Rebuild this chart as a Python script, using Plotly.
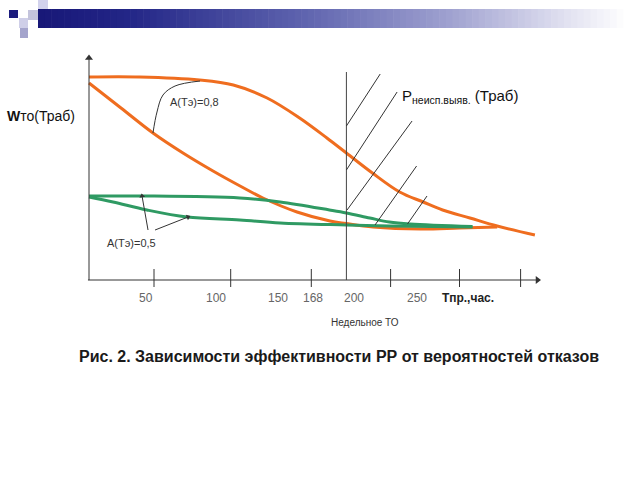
import math
import plotly.graph_objects as go

# ---- data (schematic chart units: x ~ hours, y ~ efficiency) ----
orange_hi_x = [0, 39, 85, 111, 137, 162, 183, 198, 218, 239, 257, 272, 293, 314, 343]
orange_hi_y = [101.5, 101.5, 100, 97.5, 91, 81, 71, 63.5, 53.5, 44, 39, 35, 31, 27, 22.5]
orange_lo_x = [0, 24.6, 49.2, 72.3, 95.4, 116.2, 133.8, 160, 185.4, 197.7, 218.5, 255, 285, 314]
orange_lo_y = [98.5, 86, 73.5, 63.5, 54.5, 47, 41, 34, 29.5, 28.25, 26.5, 25.5, 26, 26.5]
green_hi_x = [0, 41, 116, 147, 185, 198, 216, 231, 247, 295]
green_hi_y = [42, 42, 41, 39, 35, 33.5, 31, 29, 28, 26.75]
green_lo_x = [0, 18.5, 44.6, 75.4, 116, 147, 198, 231, 295]
green_lo_y = [41.5, 39, 35, 31.5, 30, 28.5, 27.5, 27, 26.5]

tick_positions = [50, 109, 171, 232, 285, 332]
tick_labels = ["50", "100", "150", "168", "200", "250"]
tick_label_x = [44, 98, 145, 172, 204, 252]
week_x = 198           # Недельное ТО marker
x_axis_end = 345
y_axis_end = 111

hatch_x0 = [198, 198, 198.5, 220, 245]
hatch_y0 = [77, 55, 35, 27.5, 28]
hatch_x1 = [224, 237, 248.5, 252, 260]
hatch_y1 = [103, 94, 79.5, 57, 42]

leader08_x = [85.4, 66.2, 56.9, 52.3, 49.2]
leader08_y = [99.5, 97, 92.5, 84, 73.5]
leader05_x = [[45.4, 40.8], [50.8, 76.2]]
leader05_y = [[25, 42], [25, 31.5]]

ORANGE = "#ef6d1f"
GREEN = "#2f9a63"
DARK = "#333333"
FONT = "Arial, Liberation Sans, sans-serif"

W, H = 640, 480
X0, XS = 89, 1.3     # pixel of x=0, px per unit
Y0, YS = 280, 2.0    # pixel of y=0, px per unit

fig = go.Figure()

# curves
for xs, ys, col in [(orange_hi_x, orange_hi_y, ORANGE), (orange_lo_x, orange_lo_y, ORANGE),
                    (green_hi_x, green_hi_y, GREEN), (green_lo_x, green_lo_y, GREEN)]:
    fig.add_trace(go.Scatter(x=xs, y=ys, mode="lines",
                             line=dict(color=col, width=3, shape="spline", smoothing=1.0),
                             hoverinfo="skip", showlegend=False))


def arrow_line(xs, ys, size):
    fig.add_trace(go.Scatter(x=xs, y=ys, mode="lines", line=dict(color=DARK, width=1),
                             hoverinfo="skip", showlegend=False))
    dxp = (xs[-1] - xs[-2]) * XS
    dyp = -(ys[-1] - ys[-2]) * YS
    ang = math.degrees(math.atan2(dxp, -dyp))
    fig.add_trace(go.Scatter(x=[xs[-1]], y=[ys[-1]], mode="markers",
                             marker=dict(symbol="triangle-up", angle=ang, size=size, color=DARK,
                                         line=dict(width=0)),
                             cliponaxis=False, hoverinfo="skip", showlegend=False))


# axes with arrows
arrow_line([-0.8, x_axis_end], [0, 0], 7)
arrow_line([0, 0], [0, y_axis_end], 7)

# tick marks
tx, ty = [], []
for t in tick_positions:
    tx += [t, t, None]
    ty += [-3.5, 5.5, None]
fig.add_trace(go.Scatter(x=tx, y=ty, mode="lines", line=dict(color=DARK, width=1),
                         hoverinfo="skip", showlegend=False))

# weekly maintenance vertical line
fig.add_trace(go.Scatter(x=[week_x, week_x], y=[0, 104], mode="lines",
                         line=dict(color="#444444", width=1), hoverinfo="skip", showlegend=False))

# hatch
hx, hy = [], []
for a, b, c, d in zip(hatch_x0, hatch_y0, hatch_x1, hatch_y1):
    hx += [a, c, None]
    hy += [b, d, None]
fig.add_trace(go.Scatter(x=hx, y=hy, mode="lines", line=dict(color=DARK, width=1),
                         hoverinfo="skip", showlegend=False))

# leader for A=0,8
fig.add_trace(go.Scatter(x=leader08_x, y=leader08_y, mode="lines",
                         line=dict(color=DARK, width=1, shape="spline"),
                         hoverinfo="skip", showlegend=False))
# leaders for A=0,5
for xs, ys in zip(leader05_x, leader05_y):
    arrow_line(xs, ys, 5)

ann = []
# tick labels
for lx, lab in zip(tick_label_x, tick_labels):
    ann.append(dict(x=lx, y=-9, xref="x", yref="y", text=lab, showarrow=False,
                    font=dict(family=FONT, size=12, color="#666666")))
ann.append(dict(x=291.5, y=-9, xref="x", yref="y", text="<b>Тпр.,час.</b>", showarrow=False,
                font=dict(family=FONT, size=12, color="#222222")))
ann.append(dict(x=212.3, y=-21, xref="x", yref="y", text="Недельное ТО", showarrow=False,
                font=dict(family=FONT, size=10, color="#333333")))
ann.append(dict(x=81, y=89, xref="x", yref="y", text="A(Тэ)=0,8", showarrow=False,
                font=dict(family=FONT, size=11, color="#333333")))
ann.append(dict(x=33, y=18.5, xref="x", yref="y", text="A(Тэ)=0,5", showarrow=False,
                font=dict(family=FONT, size=11, color="#333333")))
ann.append(dict(x=-9.2, y=82, xref="x", yref="y", xanchor="right", text="<b>W</b>то(Траб)",
                showarrow=False, font=dict(family=FONT, size=14, color="#111111")))
ann.append(dict(x=239.2, y=92, xref="x", yref="y", xanchor="left",
                text="Р<sub>неисп.выяв.</sub> (Траб)", showarrow=False,
                font=dict(family=FONT, size=15, color="#111111")))
ann.append(dict(x=192.3, y=-38, xref="x", yref="y",
                text="<b>Рис. 2. Зависимости эффективности РР от вероятностей отказов</b>",
                showarrow=False, font=dict(family=FONT, size=16, color="#1a1a1a")))

# ---- decorative header (slide template) ----
def px(x):
    return x / W

def py(y):
    return 1 - y / H

shapes = []
stops = [(0.0, (24, 24, 120)), (0.15, (35, 38, 135)), (0.45, (95, 100, 175)),
         (0.7, (160, 162, 208)), (0.88, (220, 220, 238)), (1.0, (255, 255, 255))]

def grad(t):
    for (t0, c0), (t1, c1) in zip(stops[:-1], stops[1:]):
        if t <= t1:
            f = (t - t0) / (t1 - t0)
            return "rgb(%d,%d,%d)" % tuple(round(a + (b - a) * f) for a, b in zip(c0, c1))
    return "rgb(255,255,255)"

n = 90
bx0, bx1 = 38, 630
for i in range(n):
    xa = bx0 + (bx1 - bx0) * i / n
    xb = bx0 + (bx1 - bx0) * (i + 1) / n + 0.6
    shapes.append(dict(type="rect", xref="paper", yref="paper", x0=px(xa), x1=px(xb),
                       y0=py(28), y1=py(9), fillcolor=grad(i / (n - 1)), line=dict(width=0),
                       layer="below"))
for (xa, ya, xb, yb, col) in [(9, 10, 18, 18, "#1c1c7e"), (19, 18, 28, 28, "#cfcfe8"),
                              (28, 10, 38, 20, "#c4c4dc"), (38, 0, 48, 9, "#d2d2ec"),
                              (20, 28, 28, 38, "#a4a4cc")]:
    shapes.append(dict(type="rect", xref="paper", yref="paper", x0=px(xa), x1=px(xb),
                       y0=py(yb), y1=py(ya), fillcolor=col, line=dict(width=0), layer="below"))

fig.update_layout(
    width=W, height=H, autosize=False,
    margin=dict(l=0, r=0, t=0, b=0, pad=0),
    paper_bgcolor="white", plot_bgcolor="white",
    xaxis=dict(range=[(0 - X0) / XS, (W - X0) / XS], visible=False, fixedrange=True),
    yaxis=dict(range=[(Y0 - H) / YS, Y0 / YS], visible=False, fixedrange=True),
    annotations=ann, shapes=shapes, showlegend=False,
)

fig.write_html("out.html", post_script="document.body.style.margin='0';",
               config={"displayModeBar": False})
